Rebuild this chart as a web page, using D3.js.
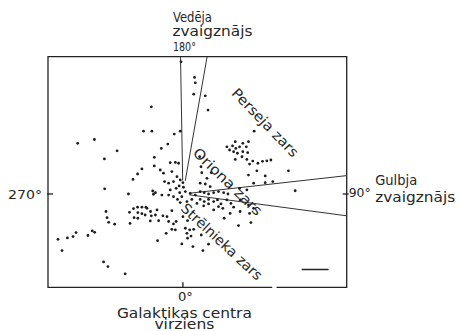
<!DOCTYPE html>
<html>
<head>
<meta charset="utf-8">
<script src="https://cdn.jsdelivr.net/npm/d3@7"></script>
<style>
  body { margin: 0; background: #fff; }
  svg { display: block; }
  text { font-family: 'DejaVu Sans', sans-serif; font-size: 14px; fill: #262626; }
</style>
</head>
<body>
<div id="chart"></div>
<script>
// star positions seen from the Sun, in kpc: x toward l = 90°, y toward l = 180°
const towardVela = [[0.43, 4.32], [0.46, 4.12], [0.40, 3.70], [0.83, 3.64], [0.93, 3.11], [-0.07, 4.90]];
const upperLeft = [[-1.17, 3.23], [-1.46, 2.33], [-1.15, 2.33], [-0.32, 2.22], [-0.10, 2.33], [-3.90, 1.88],
  [-3.28, 2.02], [-2.44, 1.60], [-2.91, 1.30], [-0.56, 1.85], [-0.80, 1.69], [-1.06, 1.36], [-1.06, 1.04],
  [-1.52, 0.93], [-1.68, 0.74], [-1.85, 0.54], [-2.90, 0.19], [-2.02, 0], [-1.12, 0.11], [-1.09, -0.01],
  [-1.02, 0.05], [-0.84, 0.89], [-0.72, 0.77], [-0.47, 1.16], [-0.28, 1.17], [-0.16, 1.14], [-0.41, 0.83]];
const nearSun = [[-0.68, 0.46], [-0.53, 0.40], [-0.35, 0.46], [-0.22, 0.64], [-0.10, 0.52], [0, 0.42],
  [-0.14, 0.30], [0.02, 0.25], [-0.25, 0.21], [-0.47, 0.15], [-0.53, -0.04], [-0.78, -0.04], [-0.35, -0.10],
  [-0.12, 0.05], [0.09, 0.09], [-0.04, -0.10], [-0.20, -0.20], [0.27, 0.02], [0.46, -0.04], [0.33, -0.20],
  [0.52, -0.35], [0.15, -0.28], [-0.10, -0.32]];
const orionArm = [[0.62, 1.38], [0.67, 1.01], [0.70, 0.79], [1.05, 0.79], [0.89, 0.58], [0.64, 0.40],
  [0.83, 0.37], [1.01, 0.27], [0.64, 0.09], [0.79, 0.05], [0.95, 0], [1.14, 0.05], [1.32, 0.09], [1.51, 0.05],
  [1.67, 0], [0.64, -0.20], [0.79, -0.28], [0.95, -0.37], [1.14, -0.28], [1.28, -0.22], [1.41, -0.37],
  [1.48, -0.53], [1.63, -0.22], [1.78, -0.35], [1.88, -0.49], [1.32, -0.47], [2.12, -0.22], [2.43, -0.41],
  [2.62, -0.53], [2.47, -0.72], [2.12, -0.65], [2.06, -1.17], [2.52, -1.06], [1.53, -0.90], [1.75, -0.72],
  [1.14, -0.59], [0.77, -0.44], [0.95, -0.20]];
const perseusArm = [[1.63, 1.75], [1.73, 1.63], [1.84, 1.78], [1.88, 1.57], [1.96, 1.69], [2.02, 1.51],
  [1.94, 1.94], [2.10, 1.75], [2.22, 1.88], [2.35, 1.75], [2.43, 1.94], [2.40, 1.53], [2.22, 1.57],
  [1.94, 1.28], [2.19, 1.38], [2.37, 1.28], [2.47, 1.11], [2.59, 1.22], [2.78, 1.14], [2.95, 1.21],
  [3.11, 1.23], [3.26, 1.26], [2.64, 2.33], [2.43, 0.70], [2.74, 0.86], [3.05, 0.67], [2.62, 0.40],
  [3.05, 0.42], [3.33, 0.46], [3.91, 0.86], [4.16, 0.12], [2.10, 0.21], [2.37, 0.15]];
const sagittariusArm = [[-0.41, -0.62], [-0.59, -0.84], [-0.74, -0.81], [-0.53, -1.02], [-0.35, -1.11],
  [-0.25, -1.02], [-0.41, -1.31], [-0.28, -1.33], [-0.62, -1.46], [-0.94, -1.73], [-0.04, -1.85],
  [0.37, -1.95], [0.74, -2.10], [0.95, -1.86], [0.09, -1.27], [0.15, -1.46], [0.25, -1.33], [0.30, -1.56],
  [0.40, -1.31], [0.17, -1.64], [0.68, -1.52], [0, -0.84], [0.17, -0.99], [-0.96, -0.59], [-1.02, -0.78],
  [-1.33, -0.53], [-1.40, -0.78]];
const farLeft = [[-1.98, -0.68], [-1.83, -0.54], [-1.68, -0.49], [-1.52, -0.49], [-1.37, -0.49],
  [-1.81, -0.88], [-1.67, -0.90], [-1.67, -0.69], [-1.52, -0.73], [-1.96, -1.09], [-1.20, -0.65],
  [-1.17, -0.81], [-1.21, -1.00], [-0.90, -0.99], [-2.85, -0.65], [-2.81, -0.88], [-2.75, -1.05],
  [-2.53, -1.12], [-4.63, -1.68], [-4.48, -2.10], [-4.28, -1.63], [-4.07, -1.58], [-3.96, -1.43],
  [-3.52, -1.54], [-3.36, -1.37], [-3.27, -1.42], [-2.94, -2.52], [-2.78, -2.69], [-2.14, -2.96]];

// galactic longitudes of the wedge edges
const velaWedge = [170, 181];
const cygnusWedge = [82.4, 96.4];

const longitudeLabels = ['0°', '90°', '180°', '270°'];
const velaName = ['Vedēja', 'zvaigznājs'];
const cygnusName = ['Gulbja', 'zvaigznājs'];
const centreName = ['Galaktikas centra', 'virziens'];
const armNames = ['Perseja zars', 'Oriona zars', 'Strēlnieka zars'];
const scaleBarKpc = 1;

const width = 459;
const height = 331;
const box = {left: 48, right: 346.7, top: 56.7, bottom: 287.3};

const x = d3.scaleLinear().domain([-5, 6.07]).range([box.left, box.right]);
const y = d3.scaleLinear().domain([-3.46, 5.09]).range([box.bottom, box.top]);

const svg = d3.select('#chart')
    .append('svg')
    .attr('width', width)
    .attr('height', height);

svg.append('rect')
    .attr('width', width)
    .attr('height', height)
    .attr('fill', '#fff');

svg.append('clipPath')
    .attr('id', 'frame-clip')
    .append('rect')
    .attr('x', box.left)
    .attr('y', box.top)
    .attr('width', box.right - box.left)
    .attr('height', box.bottom - box.top);

// frame, with the small break in the bottom edge
const frame = d3.path();
frame.moveTo(x(3.31), box.bottom);
frame.lineTo(box.left, box.bottom);
frame.lineTo(box.left, box.top);
frame.lineTo(box.right, box.top);
frame.lineTo(box.right, box.bottom);
frame.lineTo(x(3.47), box.bottom);

svg.append('path')
    .attr('d', frame.toString())
    .attr('fill', 'none')
    .attr('stroke', '#222')
    .attr('stroke-width', 1.3);

// ticks for 0°, 90°, 270°
const ticks = [
  [x(0), box.bottom, x(0), box.bottom - 5],
  [box.right - 4, y(0), box.right + 2, y(0)],
  [box.left - 1, y(0), box.left + 5, y(0)]
];
svg.selectAll('.tick')
    .data(ticks)
    .enter()
    .append('line')
    .attr('class', 'tick')
    .attr('x1', function(d) { return d[0]; })
    .attr('y1', function(d) { return d[1]; })
    .attr('x2', function(d) { return d[2]; })
    .attr('y2', function(d) { return d[3]; })
    .attr('stroke', '#222')
    .attr('stroke-width', 1.3);

// wedge rays from the Sun
const rays = [];
velaWedge.forEach(function(l) { rays.push({l: l, r0: 0.5}); });
cygnusWedge.forEach(function(l) { rays.push({l: l, r0: 0.25}); });

const rad = Math.PI / 180;
svg.append('g')
    .attr('clip-path', 'url(#frame-clip)')
    .selectAll('line')
    .data(rays)
    .enter()
    .append('line')
    .attr('x1', function(d) { return x(d.r0 * Math.sin(d.l * rad)); })
    .attr('y1', function(d) { return y(-d.r0 * Math.cos(d.l * rad)); })
    .attr('x2', function(d) { return x(12 * Math.sin(d.l * rad)); })
    .attr('y2', function(d) { return y(-12 * Math.cos(d.l * rad)); })
    .attr('stroke', '#333')
    .attr('stroke-width', 1);

const stars = [].concat(towardVela, upperLeft, nearSun, orionArm, perseusArm, sagittariusArm, farLeft);

svg.append('g')
    .selectAll('circle')
    .data(stars)
    .enter()
    .append('circle')
    .attr('cx', function(d) { return x(d[0]); })
    .attr('cy', function(d) { return y(d[1]); })
    .attr('r', 1.4)
    .attr('fill', '#1c1c1c');

// 1 kpc scale bar
svg.append('line')
    .attr('x1', x(4.4))
    .attr('x2', x(4.4 + scaleBarKpc))
    .attr('y1', y(-2.8))
    .attr('y2', y(-2.8))
    .attr('stroke', '#222')
    .attr('stroke-width', 1.5);

function label(txt, px, py, len, anchor, size) {
  return svg.append('text')
      .attr('x', px)
      .attr('y', py)
      .attr('text-anchor', anchor || 'start')
      .attr('textLength', len)
      .attr('lengthAdjust', 'spacingAndGlyphs')
      .style('font-size', (size || 14) + 'px')
      .text(txt);
}

// direction labels
label(velaName[0], x(0) - 10, box.top - 35, 39);
label(velaName[1], x(0) - 10.5, box.top - 20.5, 80);
label(longitudeLabels[2], x(0) - 10, box.top - 5.5, 23, 'start', 12.5);

label(longitudeLabels[3], box.left - 6, y(0) + 5.5, 34, 'end', 12.5);

label(longitudeLabels[1], box.right + 2, y(0) + 3.5, 22, 'start', 12.5);
label(cygnusName[0], box.right + 28.5, y(0) - 9, 42);
label(cygnusName[1], box.right + 28.5, y(0) + 8, 80);

label(longitudeLabels[0], x(0) + 2.5, box.bottom + 14, 15, 'middle', 12.5);
label(centreName[0], x(0) + 1.5, box.bottom + 30.5, 135, 'middle', 13.5);
label(centreName[1], x(0) + 1.5, box.bottom + 42, 60, 'middle', 13.5);

// arm labels, set along the arms
const armPlaces = [
  {X: 3.05, Y: 2.65, angle: 46, len: 89},
  {X: 1.66, Y: 0.46, angle: 44, len: 90},
  {X: 1.44, Y: -1.77, angle: 43, len: 105}
];

svg.selectAll('.arm')
    .data(armNames)
    .enter()
    .append('text')
    .attr('class', 'arm')
    .attr('text-anchor', 'middle')
    .attr('dy', '0.35em')
    .attr('textLength', function(d, i) { return armPlaces[i].len; })
    .attr('lengthAdjust', 'spacingAndGlyphs')
    .attr('transform', function(d, i) {
      const p = armPlaces[i];
      return 'translate(' + x(p.X) + ',' + y(p.Y) + ') rotate(' + p.angle + ')';
    })
    .text(function(d) { return d; });
</script>
</body>
</html>
